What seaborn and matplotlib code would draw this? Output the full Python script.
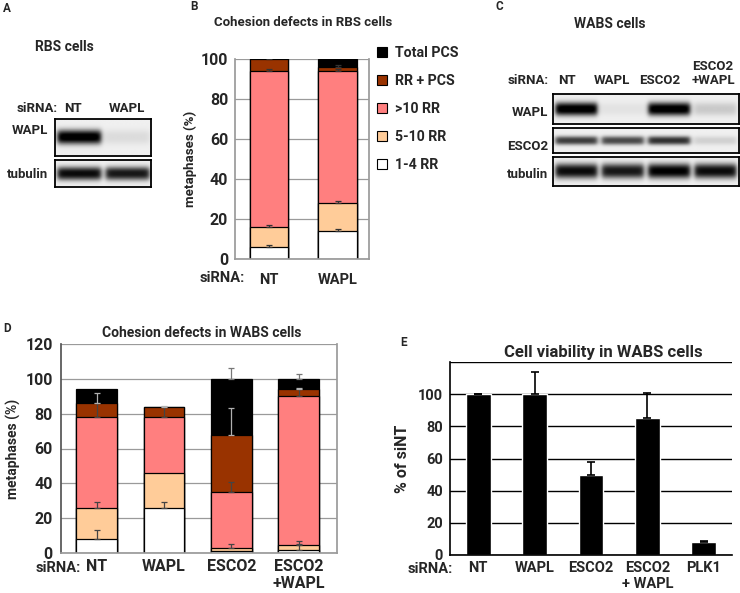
import numpy as np
import pandas as pd
import matplotlib
matplotlib.use("Agg")
import matplotlib.pyplot as plt
import seaborn as sns
from matplotlib.patches import Patch
from matplotlib.font_manager import FontProperties

# ------------------------
# data
# ------------------------
rbs_conditions = ["NT", "WAPL"]
rbs_1_4 = [6, 14]
rbs_5_10 = [10, 14]
rbs_gt10 = [78, 66]
rbs_rr_pcs = [6, 2]
rbs_total_pcs = [0, 4]
rbs_err = [0.8, 0.8]

wabs_conditions = ["NT", "WAPL", "ESCO2", "ESCO2\n+WAPL"]
wabs_1_4 = [8, 26, 1, 2]
wabs_5_10 = [18, 20, 2, 2.5]
wabs_gt10 = [52, 32, 32, 85.5]
wabs_rr_pcs = [8, 6, 33, 4]
wabs_total_pcs = [8, 0, 32, 6]
wabs_1_4_err = [5, 3, 0, 3]
wabs_5_10_err = [3, 0, 2, 2.5]
wabs_gt10_err = [8, 6, 5.5, 4]
wabs_rr_pcs_err = [6, 0.5, 15, 0.5]
wabs_total_pcs_err = [0, 0, 6, 3]

viab_conditions = ["NT", "WAPL", "ESCO2", "ESCO2\n+ WAPL", "PLK1"]
viab_values = [100, 100, 50, 85, 8]
viab_err = [0, 14, 8, 16, 1]

# western blot band strength per lane (0 = no band, 1 = saturated)
a_lanes = ["NT", "WAPL"]
a_wapl = [1.0, 0.08]
a_tubulin = [0.9, 0.85]
c_lanes = ["NT", "WAPL", "ESCO2", "ESCO2\n+WAPL"]
c_wapl = [1.0, 0.05, 1.0, 0.15]
c_esco2 = [0.7, 0.65, 0.75, 0.12]
c_tubulin = [0.9, 0.85, 0.95, 0.9]

layer_names = ["1-4 RR", "5-10 RR", ">10 RR", "RR + PCS", "Total PCS"]
layer_colors = ["#FFFFFF", "#FFCC99", "#FF7F7F", "#993300", "#000000"]

sns.set_theme(style="white")
plt.rcParams["font.family"] = ["Roboto", "DejaVu Sans"]
plt.rcParams["font.weight"] = "bold"
plt.rcParams["axes.labelweight"] = "bold"

W, H = 740, 593
fig = plt.figure(figsize=(W / 100, H / 100), dpi=100)
FS = 9.5  # calibri-like text size


def heavy(size):
    return FontProperties(family=["Roboto", "DejaVu Sans"], weight="bold",
                          size=size)


def box(x0, y0, x1, y1):
    return fig.add_axes([x0 / W, 1 - y1 / H, (x1 - x0) / W, (y1 - y0) / H])


def label(x, y, s, **kw):
    if "fontproperties" not in kw:
        kw.setdefault("fontsize", FS)
        kw.setdefault("fontweight", "bold")
    kw.setdefault("va", "center")
    fig.text(x / W, 1 - y / H, s, **kw)


def blot(ax, bands, bg=0.94, thick=0.4):
    n = len(bands)
    u = np.linspace(0, n, 400)
    v = np.linspace(-1, 1, 60)[:, None]
    img = np.full((60, 400), bg)
    for i, a in enumerate(bands):
        horiz = 1 / (1 + np.exp((np.abs(u - (i + 0.5)) - 0.45) / 0.03))
        vert = np.exp(-(np.abs(v) / thick) ** 2.5)
        img = img - a * horiz[None, :] * vert
    ax.imshow(np.clip(img, 0, 1), cmap="gray", vmin=0, vmax=1, aspect="auto",
              extent=(0, n, 0, 1), interpolation="bilinear")
    ax.set_xticks([]); ax.set_yticks([])
    for s in ax.spines.values():
        s.set_visible(True); s.set_color("black"); s.set_linewidth(1.3)


def stacked(ax, conds, layers, errs, width, err_colors):
    df = pd.DataFrame(dict(zip(layer_names, layers)), index=conds)
    cum = df.cumsum(axis=1)
    for name, color in reversed(list(zip(layer_names, layer_colors))):
        sns.barplot(x=conds, y=cum[name].values, color=color, saturation=1,
                    width=width, edgecolor="black", linewidth=0.9,
                    errorbar=None, ax=ax, zorder=2)
    x = np.arange(len(conds))
    for name, err, ec in zip(layer_names, errs, err_colors):
        err = np.asarray(err, dtype=float)
        m = err > 0
        ax.errorbar(x[m], cum[name].values[m], yerr=[np.zeros(m.sum()), err[m]],
                    fmt="none", ecolor=ec, elinewidth=0.9, capsize=2.2,
                    capthick=0.9, zorder=4)


# ------------------------ A ------------------------
label(3, 8, "A", fontsize=8.5)
label(64, 47, "RBS cells", ha="center", fontsize=10)
label(17, 108, "siRNA:", ha="left")
for lx, s in zip([73, 127], a_lanes):
    label(lx, 108, s, ha="center")
blot(box(55, 119, 151, 156), a_wapl, thick=0.38)
blot(box(55, 160, 151, 187), a_tubulin, thick=0.5)
label(48, 130, "WAPL", ha="right")
label(48, 175, "tubulin", ha="right")

# ------------------------ B ------------------------
label(190, 7, "B", fontsize=8.5)
label(303, 23, "Cohesion defects in RBS cells", ha="center", fontsize=FS)
axb = box(235, 59, 369, 259)
stacked(axb, rbs_conditions,
        [rbs_1_4, rbs_5_10, rbs_gt10, rbs_rr_pcs, rbs_total_pcs],
        [rbs_err, rbs_err, rbs_err, rbs_err, [0, 0]], 0.56,
        ["#333333"] * 5)
axb.set_xlim(-0.5, 1.46)
axb.set_ylim(0, 100)
axb.set_yticks(range(0, 101, 20))
axb.set_axisbelow(True)
axb.yaxis.grid(True, color="#9a9a9a", linewidth=0.9)
for s in axb.spines.values():
    s.set_color("#9a9a9a")
axb.spines["top"].set_visible(False)
axb.tick_params(axis="y", labelsize=11.5, length=3, color="#9a9a9a", pad=2)
axb.tick_params(axis="x", labelsize=10.5, length=0, pad=10)
axb.set_xticks([0.5], minor=True)
axb.tick_params(axis="x", which="minor", length=4, color="#9a9a9a")
axb.set_ylabel("metaphases (%)", fontsize=9.5, labelpad=3)
label(200, 278, "siRNA:", ha="left", fontsize=10.5)
handles = [Patch(facecolor=c, edgecolor="black", linewidth=0.8)
           for c in layer_colors]
axb.legend(handles[::-1], layer_names[::-1], loc="upper left",
           bbox_to_anchor=(377 / W, 1 - 46 / H), bbox_transform=fig.transFigure,
           frameon=False, prop=heavy(10.2), labelspacing=0.98, handlelength=0.7,
           handleheight=0.7, handletextpad=0.55, borderpad=0, borderaxespad=0)

# ------------------------ C ------------------------
label(495, 7, "C", fontsize=8.5)
label(610, 24, "WABS cells", ha="center", fontsize=10)
label(508, 81, "siRNA:", ha="left")
for lx, s in zip([567, 612, 660, 713], c_lanes):
    if "\n" in s:
        label(lx, 73, s, ha="center", linespacing=1.1)
    else:
        label(lx, 81, s, ha="center")
blot(box(553, 94, 739, 124), c_wapl, thick=0.45)
blot(box(553, 128, 739, 153), c_esco2, thick=0.35)
blot(box(553, 157, 739, 186), c_tubulin, thick=0.5)
label(548, 112, "WAPL", ha="right")
label(548, 147, "ESCO2", ha="right")
label(548, 175, "tubulin", ha="right")

# ------------------------ D ------------------------
label(3, 329, "D", fontsize=8.5)
label(202, 333, "Cohesion defects in WABS cells", ha="center", fontsize=FS + 0.5)
axd = box(61, 344, 337, 553)
stacked(axd, wabs_conditions,
        [wabs_1_4, wabs_5_10, wabs_gt10, wabs_rr_pcs, wabs_total_pcs],
        [wabs_1_4_err, wabs_5_10_err, wabs_gt10_err, wabs_rr_pcs_err,
         wabs_total_pcs_err], 0.6,
        ["#444444", "#444444", "#444444", "#b0b0b0", "#777777"])
axd.set_xlim(-0.53, 3.57)
axd.set_ylim(0, 120)
axd.set_yticks(range(0, 121, 20))
axd.set_axisbelow(True)
axd.yaxis.grid(True, color="#9a9a9a", linewidth=0.9)
for s in axd.spines.values():
    s.set_color("#9a9a9a")
axd.spines["top"].set_visible(False)
axd.spines["left"].set_color("#555555")
axd.tick_params(axis="y", labelsize=11.5, length=3, color="#9a9a9a", pad=3)
axd.tick_params(axis="x", labelsize=11.5, length=0, pad=4)
axd.set_xticks([1.5, 2.5, 3.5], minor=True)
axd.tick_params(axis="x", which="minor", length=3, color="#9a9a9a")
axd.set_ylabel("metaphases (%)", fontsize=10, labelpad=3)
label(36, 568, "siRNA:", ha="left", fontsize=10.5)
for t in axd.get_xticklabels():
    t.set_va("top")

# ------------------------ E ------------------------
label(400, 343, "E", fontsize=8.5)
label(603, 352, "Cell viability in WABS cells", ha="center",
      fontproperties=heavy(12))
axe = box(450, 362, 732, 555)
sns.barplot(x=viab_conditions, y=viab_values, color="black", saturation=1,
            width=0.44, errorbar=None, ax=axe, zorder=2)
xe = np.arange(len(viab_conditions))
axe.errorbar(xe, viab_values, yerr=[np.zeros(len(xe)), viab_err], fmt="none",
             ecolor="black", elinewidth=1.2, capsize=3, capthick=1.2, zorder=3)
axe.set_xlim(-0.5, 4.5)
axe.set_ylim(0, 120)
axe.set_yticks(range(0, 121, 20))
axe.set_yticklabels([str(v) for v in range(0, 101, 20)] + [""],
                    fontproperties=heavy(10.5))
axe.set_xticks(xe)
axe.set_xticklabels(viab_conditions, fontproperties=heavy(10.5), va="top")
axe.set_axisbelow(True)
axe.yaxis.grid(True, color="black", linewidth=1)
for side in ["top", "right"]:
    axe.spines[side].set_visible(False)
for side in ["left", "bottom"]:
    axe.spines[side].set_color("black")
    axe.spines[side].set_linewidth(1.2)
axe.tick_params(axis="y", length=3, color="black", pad=2)
axe.tick_params(axis="x", length=0, pad=4)
axe.set_xticks([0.5, 1.5, 2.5, 3.5], minor=True)
axe.tick_params(axis="x", which="minor", length=5, width=1.2, color="black")
axe.set_ylabel("% of siNT", fontproperties=heavy(11.5), labelpad=6)
label(408, 569, "siRNA:", ha="left", fontproperties=heavy(10.5))

fig.savefig("out.png", dpi=100)
